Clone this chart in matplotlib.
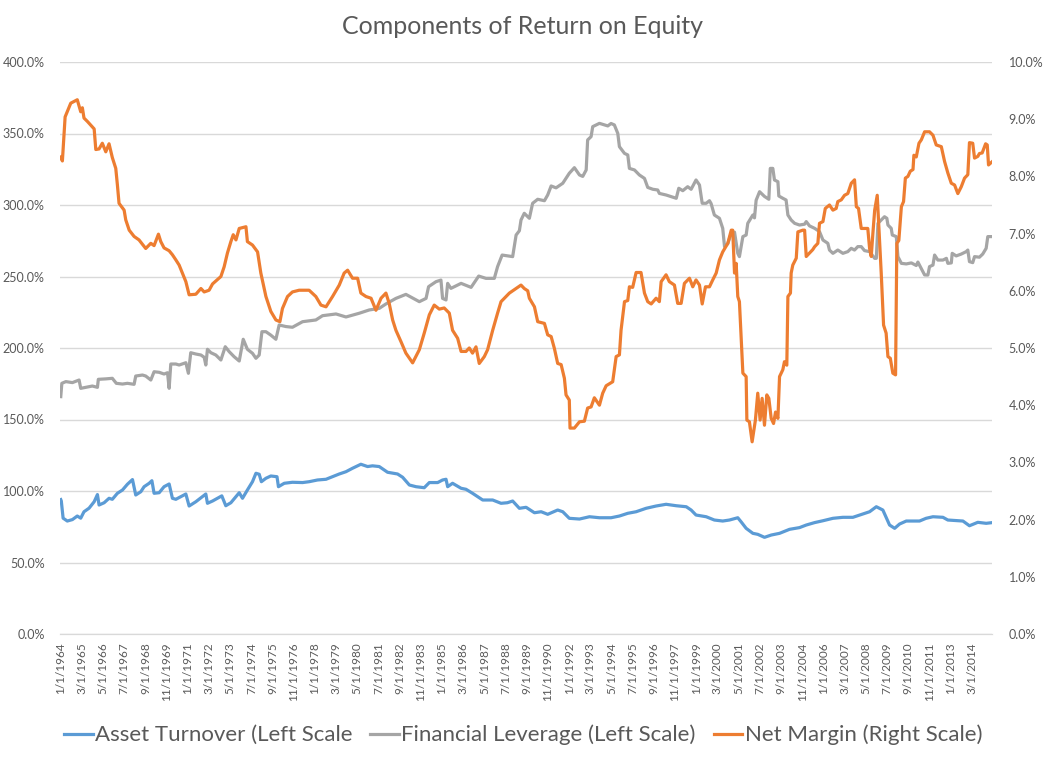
import numpy as np
import matplotlib.pyplot as plt

plt.rcParams['font.family'] = ['Lato', 'DejaVu Sans']

# values (decimal year, value)
turnover_years = [1964.00, 1964.03, 1964.13, 1964.36, 1964.64, 1964.91, 1965.10, 1965.28, 1965.56, 1965.84,
                  1966.02, 1966.11, 1966.39, 1966.66, 1966.84, 1967.12, 1967.40, 1967.67, 1967.95, 1968.13,
                  1968.41, 1968.59, 1968.87, 1969.02, 1969.14, 1969.42, 1969.69, 1969.97, 1970.15, 1970.34,
                  1970.70, 1970.89, 1971.07, 1971.44, 1971.80, 1971.99, 1972.08, 1972.36, 1972.72, 1972.87,
                  1973.09, 1973.37, 1973.65, 1973.83, 1974.01, 1974.28, 1974.56, 1974.75, 1974.93, 1975.05,
                  1975.30, 1975.57, 1975.91, 1975.99, 1976.31, 1976.76, 1977.32, 1977.68, 1978.14, 1978.61,
                  1978.97, 1979.34, 1979.71, 1980.07, 1980.53, 1980.90, 1981.17, 1981.54, 1982.00, 1982.55,
                  1982.83, 1983.20, 1983.57, 1984.02, 1984.30, 1984.76, 1985.03, 1985.22, 1985.31, 1985.58,
                  1986.05, 1986.32, 1986.68, 1987.24, 1987.79, 1988.25, 1988.60, 1988.89, 1989.26, 1989.63,
                  1990.09, 1990.46, 1990.82, 1991.37, 1991.65, 1992.01, 1992.57, 1993.12, 1993.67, 1994.31,
                  1994.77, 1995.23, 1995.69, 1996.24, 1996.79, 1997.34, 1997.90, 1998.45, 1998.72, 1998.99,
                  1999.55, 2000.00, 2000.46, 2000.83, 2001.29, 2001.47, 2001.75, 2002.12, 2002.39, 2002.76,
                  2003.13, 2003.59, 2004.14, 2004.69, 2005.06, 2005.52, 2005.98, 2006.53, 2007.08, 2007.63,
                  2008.00, 2008.55, 2008.92, 2009.28, 2009.46, 2009.65, 2009.93, 2010.20, 2010.57, 2011.30,
                  2011.66, 2012.04, 2012.59, 2012.86, 2013.69, 2014.05, 2014.51, 2014.97, 2015.31]
turnover_vals = [94, 93, 81, 79, 80, 82.5, 81, 85.5, 88, 92.5,
                 97.5, 90.2, 91.8, 94.9, 94.2, 98.4, 100.7, 104.7, 108, 97.2,
                 99.5, 103, 105.4, 107.2, 98.4, 98.8, 103, 104.9, 94.9, 94.2,
                 96.6, 97.9, 89.5, 92.5, 96, 97.9, 91.4, 93, 95.6, 96.6,
                 89.7, 91.8, 96, 98.8, 94.9, 100.7, 106.5, 112.4, 111.7, 106.5,
                 108.9, 110.5, 110, 103, 105.4, 106.1, 105.9, 106.5, 107.7, 108.2,
                 110, 111.9, 113.5, 115.9, 118.7, 117.1, 117.6, 117.1, 113.1, 111.9,
                 109.6, 104.2, 103, 102.3, 105.9, 105.9, 107.7, 108.2, 103, 105.4,
                 101.9, 101.2, 98.4, 93.7, 93.7, 91.4, 91.8, 93, 87.9, 88.6,
                 84.8, 85.5, 83.7, 86.7, 85.5, 80.9, 80.4, 82, 81.3, 81.3,
                 82.5, 84.4, 85.5, 87.9, 89.5, 90.7, 89.7, 89, 86.7, 83.2,
                 82, 79.7, 79, 79.7, 81.3, 78.5, 73.9, 70.4, 69.7, 67.6,
                 69.2, 70.4, 73.2, 74.4, 76.2, 77.9, 79.2, 80.9, 81.6, 81.6,
                 83.2, 85.5, 89, 86.7, 81.6, 76.2, 73.9, 76.9, 79, 79,
                 80.9, 82, 81.6, 79.7, 79, 75.7, 78.1, 77.4, 77.9]

leverage_years = [1964.00, 1964.06, 1964.28, 1964.64, 1965.01, 1965.10, 1965.38, 1965.74, 1966.02, 1966.07,
                  1966.48, 1966.84, 1967.06, 1967.40, 1967.67, 1968.04, 1968.13, 1968.50, 1968.68, 1968.96,
                  1969.14, 1969.42, 1969.69, 1969.88, 1969.97, 1970.06, 1970.34, 1970.52, 1970.89, 1971.03,
                  1971.16, 1971.44, 1971.72, 1971.90, 1971.99, 1972.08, 1972.27, 1972.54, 1972.82, 1973.06,
                  1973.28, 1973.55, 1973.83, 1974.05, 1974.28, 1974.56, 1974.75, 1974.93, 1975.08, 1975.30,
                  1975.57, 1975.85, 1976.03, 1976.40, 1976.76, 1977.32, 1978.05, 1978.42, 1979.16, 1979.71,
                  1980.44, 1980.99, 1981.54, 1981.91, 1982.46, 1983.01, 1983.75, 1984.12, 1984.26, 1984.67,
                  1984.94, 1985.03, 1985.22, 1985.31, 1985.49, 1986.05, 1986.60, 1987.02, 1987.42, 1987.88,
                  1988.06, 1988.31, 1988.89, 1989.08, 1989.26, 1989.35, 1989.53, 1989.81, 1989.99, 1990.27,
                  1990.64, 1990.82, 1991.01, 1991.28, 1991.65, 1992.01, 1992.29, 1992.57, 1992.75, 1992.94,
                  1993.02, 1993.21, 1993.30, 1993.67, 1994.13, 1994.31, 1994.49, 1994.68, 1994.77, 1995.05,
                  1995.23, 1995.32, 1995.60, 1995.87, 1996.15, 1996.33, 1996.61, 1996.88, 1996.97, 1997.34,
                  1997.90, 1998.04, 1998.26, 1998.53, 1998.72, 1998.99, 1999.18, 1999.33, 1999.55, 1999.73,
                  1999.82, 2000.00, 2000.28, 2000.46, 2000.56, 2000.74, 2000.93, 2001.11, 2001.29, 2001.38,
                  2001.57, 2001.75, 2001.84, 2002.12, 2002.21, 2002.30, 2002.49, 2002.76, 2003.00, 2003.08,
                  2003.22, 2003.31, 2003.50, 2003.55, 2003.77, 2003.95, 2004.05, 2004.23, 2004.42, 2004.69,
                  2004.97, 2005.06, 2005.24, 2005.52, 2005.79, 2005.98, 2006.25, 2006.34, 2006.53, 2006.80,
                  2007.08, 2007.35, 2007.54, 2007.72, 2007.90, 2008.09, 2008.27, 2008.55, 2008.83, 2008.92,
                  2009.01, 2009.19, 2009.37, 2009.50, 2009.56, 2009.74, 2009.80, 2010.02, 2010.11, 2010.30,
                  2010.57, 2010.85, 2011.12, 2011.21, 2011.40, 2011.58, 2011.76, 2011.85, 2012.04, 2012.13,
                  2012.31, 2012.59, 2012.78, 2012.86, 2013.05, 2013.10, 2013.32, 2013.60, 2013.87, 2013.96,
                  2014.05, 2014.23, 2014.33, 2014.60, 2014.78, 2014.97, 2015.06, 2015.31]
leverage_vals = [166, 175.3, 176.5, 175.8, 177.6, 171.8, 172.5, 173.4, 172.5, 178.1,
                 178.4, 178.8, 175.3, 174.8, 175.3, 174.6, 180.4, 181.1, 180.4, 177.6,
                 183.4, 183, 181.8, 182.7, 171.8, 188.8, 188.8, 188.1, 189.7, 182.3,
                 196.7, 195.8, 195.1, 193.5, 188.1, 199.1, 196.7, 195.1, 191.6, 200.9,
                 197.4, 193.9, 190.9, 206.1, 199.1, 196.3, 192.8, 195.1, 211.4, 211.4,
                 209, 206.1, 216.1, 215, 214.5, 218.4, 219.6, 222.6, 223.8, 221.7,
                 224.3, 226.6, 227.7, 230.8, 234.7, 237.5, 232.4, 234.7, 242.9, 246.4,
                 247.5, 234.7, 233.6, 245.2, 241.7, 245.2, 242.4, 250.3, 248.7, 248.7,
                 256.9, 265, 263.9, 279, 282, 289.5, 294.2, 290.7, 301.2, 304,
                 303, 307, 313.3, 312, 315.2, 322.2, 326.1, 321, 320, 324.5,
                 345.5, 347.8, 354.8, 357.1, 355.3, 357, 356, 350.1, 340.8, 336.1,
                 335, 325.6, 324.5, 321, 318.6, 312.3, 311, 310.5, 308.1, 307,
                 304.7, 311.7, 310, 312.8, 311, 317.5, 314, 301.2, 301.2, 303,
                 301, 293, 290.7, 283.7, 270.9, 273, 280.2, 281, 266.2, 263.9,
                 277.9, 279, 287.2, 293, 291, 303.3, 309.3, 306, 304, 325.6,
                 325.6, 317.5, 316.3, 306.3, 304.7, 303.5, 293, 289.5, 287.2, 286,
                 286.6, 288.4, 285.4, 283.7, 281.4, 275.5, 273.2, 268.5, 266.2, 268.5,
                 266.2, 267.4, 269.7, 268.5, 270.9, 270.9, 268.1, 267.4, 262.7, 262.7,
                 287.2, 289.5, 291.8, 290.7, 286, 283.7, 279, 277.9, 263.9, 259.2,
                 258.8, 259.5, 257.7, 260.1, 255.4, 251.1, 251, 256.9, 258, 265,
                 261.5, 261.5, 262.7, 259.2, 259.5, 266.2, 264.4, 265.7, 267.4, 268.5,
                 260.4, 259.7, 263.9, 263.5, 265.7, 269.7, 277.9, 277.9]

margin_years = [1964.00, 1964.09, 1964.24, 1964.55, 1964.91, 1965.10, 1965.19, 1965.28, 1965.47, 1965.84,
                1965.93, 1966.11, 1966.29, 1966.48, 1966.66, 1966.84, 1967.03, 1967.12, 1967.21, 1967.49,
                1967.58, 1967.77, 1968.04, 1968.31, 1968.68, 1968.96, 1969.14, 1969.38, 1969.51, 1969.69,
                1969.97, 1970.15, 1970.34, 1970.52, 1970.70, 1970.89, 1971.07, 1971.44, 1971.72, 1971.90,
                1972.17, 1972.36, 1972.82, 1973.00, 1973.18, 1973.37, 1973.50, 1973.65, 1973.83, 1974.20,
                1974.28, 1974.56, 1974.84, 1975.02, 1975.30, 1975.57, 1975.85, 1976.07, 1976.21, 1976.49,
                1976.76, 1977.13, 1977.68, 1978.05, 1978.33, 1978.61, 1978.97, 1979.34, 1979.61, 1979.80,
                1980.07, 1980.35, 1980.53, 1980.81, 1981.09, 1981.36, 1981.64, 1981.91, 1982.09, 1982.28,
                1982.46, 1982.74, 1983.01, 1983.38, 1983.75, 1984.02, 1984.30, 1984.57, 1984.85, 1985.12,
                1985.40, 1985.58, 1985.86, 1986.05, 1986.32, 1986.50, 1986.68, 1986.87, 1987.05, 1987.33,
                1987.51, 1987.79, 1988.06, 1988.25, 1988.71, 1989.08, 1989.35, 1989.53, 1989.72, 1989.81,
                1990.09, 1990.27, 1990.64, 1990.82, 1991.01, 1991.19, 1991.37, 1991.56, 1991.74, 1991.83,
                1992.01, 1992.05, 1992.29, 1992.57, 1992.84, 1993.02, 1993.21, 1993.39, 1993.67, 1993.85,
                1994.04, 1994.40, 1994.59, 1994.77, 1994.86, 1995.05, 1995.23, 1995.32, 1995.50, 1995.69,
                1995.96, 1996.15, 1996.33, 1996.52, 1996.79, 1996.97, 1997.07, 1997.34, 1997.52, 1997.80,
                1997.98, 1998.17, 1998.35, 1998.63, 1998.81, 1998.99, 1999.18, 1999.33, 1999.51, 1999.73,
                1999.91, 2000.10, 2000.28, 2000.46, 2000.74, 2000.93, 2001.01, 2001.11, 2001.20, 2001.29,
                2001.38, 2001.57, 2001.75, 2001.79, 2001.93, 2002.08, 2002.26, 2002.39, 2002.52, 2002.63,
                2002.76, 2002.89, 2003.00, 2003.13, 2003.26, 2003.37, 2003.50, 2003.59, 2003.77, 2003.86,
                2003.99, 2004.05, 2004.19, 2004.23, 2004.32, 2004.51, 2004.60, 2004.87, 2004.97, 2005.06,
                2005.24, 2005.42, 2005.52, 2005.70, 2005.79, 2005.98, 2006.11, 2006.34, 2006.53, 2006.71,
                2006.80, 2006.99, 2007.17, 2007.35, 2007.54, 2007.72, 2007.82, 2007.94, 2008.09, 2008.45,
                2008.55, 2008.64, 2008.73, 2008.83, 2008.97, 2009.06, 2009.19, 2009.32, 2009.46, 2009.56,
                2009.69, 2009.83, 2009.98, 2010.05, 2010.16, 2010.30, 2010.42, 2010.52, 2010.66, 2010.79,
                2010.94, 2010.99, 2011.12, 2011.27, 2011.40, 2011.58, 2011.85, 2012.04, 2012.22, 2012.50,
                2012.68, 2012.86, 2013.05, 2013.23, 2013.41, 2013.60, 2013.78, 2013.96, 2014.05, 2014.23,
                2014.33, 2014.51, 2014.60, 2014.75, 2014.94, 2015.03, 2015.10, 2015.31]
margin_vals = [8.34, 8.27, 9.04, 9.28, 9.34, 9.13, 9.2, 9.02, 8.96, 8.83,
               8.47, 8.48, 8.58, 8.43, 8.57, 8.33, 8.14, 7.85, 7.53, 7.41,
               7.24, 7.06, 6.95, 6.89, 6.74, 6.83, 6.79, 6.99, 6.86, 6.75,
               6.70, 6.63, 6.54, 6.45, 6.31, 6.16, 5.93, 5.94, 6.04, 5.98,
               6.01, 6.12, 6.25, 6.42, 6.66, 6.86, 6.98, 6.89, 7.09, 7.12,
               6.86, 6.80, 6.68, 6.31, 5.90, 5.64, 5.49, 5.46, 5.69, 5.90,
               5.98, 6.01, 6.01, 5.90, 5.75, 5.72, 5.90, 6.10, 6.31, 6.36,
               6.22, 6.22, 5.96, 5.90, 5.87, 5.66, 5.87, 5.96, 5.78, 5.49,
               5.31, 5.11, 4.91, 4.74, 4.97, 5.26, 5.58, 5.75, 5.68, 5.70,
               5.61, 5.31, 5.17, 4.94, 4.94, 5.0, 4.91, 5.02, 4.73, 4.85,
               4.97, 5.31, 5.61, 5.81, 5.96, 6.04, 6.10, 6.04, 6.00, 5.87,
               5.72, 5.46, 5.43, 5.23, 5.2, 4.99, 4.73, 4.71, 4.47, 4.18,
               4.09, 3.60, 3.60, 3.71, 3.72, 3.95, 3.97, 4.13, 4.0, 4.21,
               4.34, 4.41, 4.85, 4.88, 5.31, 5.81, 5.83, 6.07, 6.06, 6.32,
               6.32, 5.96, 5.81, 5.77, 5.87, 5.81, 6.16, 6.28, 6.16, 6.10,
               5.78, 5.78, 6.13, 6.22, 6.07, 6.19, 6.10, 5.77, 6.07, 6.07,
               6.19, 6.31, 6.54, 6.68, 6.83, 7.06, 7.06, 6.31, 6.48, 5.90,
               5.81, 4.56, 4.50, 3.74, 3.71, 3.36, 3.74, 4.21, 3.74, 4.12,
               3.65, 4.18, 4.12, 3.77, 3.68, 3.88, 3.77, 4.50, 4.62, 4.76,
               4.70, 5.90, 5.96, 6.31, 6.45, 6.57, 7.03, 7.06, 7.06, 6.60,
               6.66, 6.72, 6.77, 6.83, 7.18, 7.21, 7.44, 7.50, 7.41, 7.44,
               7.56, 7.59, 7.67, 7.70, 7.88, 7.94, 7.47, 7.44, 7.09, 7.09,
               6.74, 6.60, 7.0, 7.41, 7.67, 7.12, 6.31, 5.40, 5.26, 4.85,
               4.82, 4.56, 4.53, 6.83, 6.88, 7.47, 7.56, 7.97, 8.0, 8.09,
               8.12, 8.37, 8.34, 8.58, 8.64, 8.78, 8.78, 8.72, 8.55, 8.52,
               8.26, 8.06, 7.88, 7.85, 7.70, 7.82, 7.97, 8.03, 8.59, 8.58,
               8.32, 8.35, 8.40, 8.41, 8.57, 8.55, 8.20, 8.26]

# category axis: one slot per month, Jan 1964 .. Apr 2015, labelled every 14 months
n_months = 616
tick_months = list(range(0, 603, 14))
tick_labels = [f"{m % 12 + 1}/1/{1964 + m // 12}" for m in tick_months]

BLUE, GRAY, ORANGE = '#5B9BD5', '#A5A5A5', '#ED7D31'
TXT = '#595959'
GRID = '#D9D9D9'


def to_month(years):
    return (np.array(years) - 1964.0) * 12


fig = plt.figure(figsize=(10.46, 7.58), dpi=100)
ax = fig.add_axes([60 / 1046, 1 - 634 / 758, 932 / 1046, 572 / 758])
ax2 = ax.twinx()

l1, = ax.plot(to_month(turnover_years), turnover_vals, color=BLUE, lw=2.3, solid_joinstyle='round')
l2, = ax.plot(to_month(leverage_years), leverage_vals, color=GRAY, lw=2.3, solid_joinstyle='round')
l3, = ax2.plot(to_month(margin_years), margin_vals, color=ORANGE, lw=2.3, solid_joinstyle='round')

ax.set_xlim(-0.5, n_months - 0.5)
ax.set_ylim(0, 400)
ax2.set_ylim(0, 10)
ax.set_yticks(np.arange(0, 401, 50))
ax.set_yticklabels([f"{v:.1f}%" for v in np.arange(0, 401, 50)])
ax2.set_yticks(np.arange(0, 11, 1))
ax2.set_yticklabels([f"{v:.1f}%" for v in np.arange(0, 11, 1)])
ax.set_xticks(tick_months)
ax.set_xticklabels(tick_labels, rotation=90)

ax.grid(axis='y', color=GRID, lw=1)
ax.set_axisbelow(True)
for a in (ax, ax2):
    for s in ('top', 'left', 'right'):
        a.spines[s].set_visible(False)
    a.spines['bottom'].set_color(GRID)
    a.tick_params(length=0, labelcolor=TXT, labelsize=8.5)
ax.tick_params(axis='y', pad=11, labelsize=9)
ax2.tick_params(axis='y', pad=12, labelsize=9)
ax.tick_params(axis='x', pad=6)

fig.text(0.5, 1 - 27 / 758, "Components of Return on Equity", ha='center', va='center',
         fontsize=18, color=TXT)

fig.legend([l1, l2, l3],
           ["Asset Turnover (Left Scale", "Financial Leverage (Left Scale)", "Net Margin (Right Scale)"],
           loc='center', bbox_to_anchor=(0.5, 1 - 735 / 758), ncol=3, frameon=False,
           fontsize=16, labelcolor=TXT, handlelength=1.3, handletextpad=0.1, columnspacing=0.8)

fig.savefig("out.png", dpi=100)
